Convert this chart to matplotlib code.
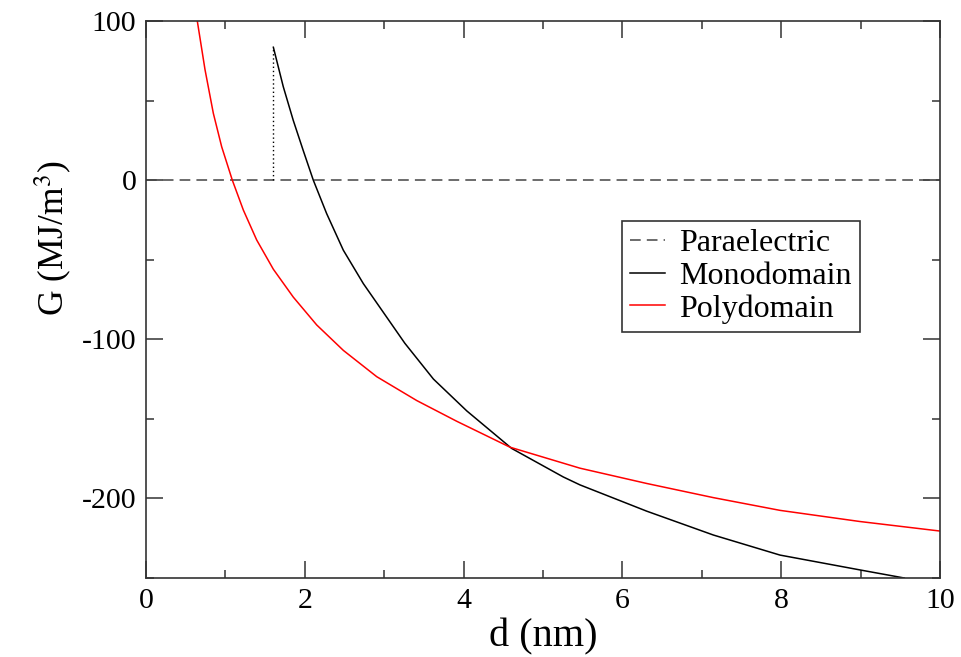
import matplotlib
matplotlib.use("Agg")
import matplotlib.pyplot as plt
from matplotlib.ticker import MultipleLocator

plt.rcParams["font.family"] = ["Liberation Serif", "DejaVu Serif"]
plt.rcParams["mathtext.fontset"] = "stix"
plt.rcParams["axes.unicode_minus"] = False

# free energy vs film thickness
para_d = [0.0, 10.0]
para_G = [0.0, 0.0]

mono_d = [1.604, 1.729, 1.855, 1.981, 2.107, 2.275, 2.485, 2.737, 3.03, 3.26,
          3.62, 4.04, 4.606, 5.255, 5.466, 6.306, 7.146, 7.985, 9.0, 9.55]
mono_G = [83.5, 58.7, 37.5, 18.5, 0, -21, -44, -65, -86, -102.5,
          -125, -145, -168.6, -186.5, -191.5, -208, -223, -235.6, -245, -250]

poly_d = [0.646, 0.743, 0.848, 0.953, 1.087, 1.226, 1.394, 1.604, 1.855, 2.15,
          2.486, 2.906, 3.41, 3.913, 4.584, 5.466, 6.306, 7.146, 7.985, 8.99, 10.0]
poly_G = [100, 69.5, 42, 21, 0, -18.8, -37.6, -56, -73.5, -91,
          -107, -123.5, -138.5, -151.5, -167.8, -181, -190.6, -199.5, -207.5, -214.5, -220.5]

fig = plt.figure(figsize=(9.62, 6.57), dpi=100)
ax = fig.add_axes([146 / 962, 1 - 578 / 657, 794 / 962, 557 / 657])

ax.plot(para_d, para_G, color="#444444", lw=1.1, dashes=(7, 4), label="Paraelectric")
ax.plot(mono_d, mono_G, color="black", lw=1.1, label="Monodomain")
ax.plot(poly_d, poly_G, color="#ff0000", lw=1.1, label="Polydomain")
# onset of the monodomain branch
ax.plot([mono_d[0], mono_d[0]], [0, mono_G[0]], color="black", lw=1.0,
        linestyle=(0, (1, 2)))

ax.set_xlim(0, 10)
ax.set_ylim(-250, 100)
ax.xaxis.set_major_locator(MultipleLocator(2))
ax.xaxis.set_minor_locator(MultipleLocator(1))
ax.yaxis.set_major_locator(MultipleLocator(100))
ax.yaxis.set_minor_locator(MultipleLocator(50))

ax.tick_params(which="both", direction="in", top=True, right=True,
               color="#333333", width=1.1)
ax.tick_params(which="major", length=12.2, labelsize=21.5, pad=7)
ax.tick_params(which="minor", length=6.1)
for s in ax.spines.values():
    s.set_color("#333333")
    s.set_linewidth(1.2)

ax.set_xlabel("d (nm)", fontsize=29, labelpad=3)
ax.set_ylabel("G (MJ/m$^3$)", fontsize=25.5)
ax.yaxis.set_label_coords(-0.089, 0.61)

leg = ax.legend(loc="upper left", bbox_to_anchor=(0.599, 0.641),
                borderaxespad=0, fontsize=23, handlelength=1.1,
                handletextpad=0.45, borderpad=0.25, labelspacing=0.1,
                fancybox=False, framealpha=1)
leg.get_frame().set_edgecolor("#333333")
leg.get_frame().set_linewidth(1.2)

plt.savefig("out.png")
